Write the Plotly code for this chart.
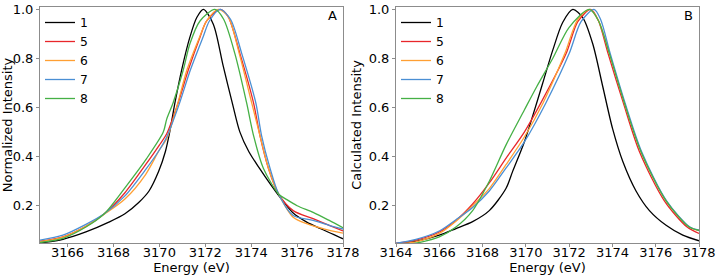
import plotly.graph_objects as go

# ---------------- Data ----------------
series_names = ["1", "5", "6", "7", "8"]
series_colors = ["#000000", "#e8262a", "#ff9f33", "#4a8fd4", "#45b045"]

# Panel A: Normalized (experimental) intensity
a1_e = [3164.8, 3165.8, 3166.8, 3167.8, 3168.5, 3169.1, 3169.55, 3169.97, 3170.26, 3170.45, 3170.68, 3170.97, 3171.33, 3171.63, 3171.92, 3172.35, 3172.78, 3173.2, 3173.51, 3173.9, 3174.38, 3174.82, 3175.25, 3175.83, 3176.42, 3177.0, 3177.58, 3178.0]
a1_v = [0.048, 0.063, 0.093, 0.133, 0.167, 0.213, 0.26, 0.34, 0.42, 0.50, 0.62, 0.753, 0.887, 0.967, 1.0, 0.94, 0.77, 0.61, 0.50, 0.42, 0.35, 0.29, 0.235, 0.17, 0.133, 0.107, 0.083, 0.065]

a5_e = [3164.8, 3165.8, 3166.8, 3167.6, 3168.5, 3169.4, 3170.0, 3170.32, 3170.82, 3171.26, 3171.77, 3172.06, 3172.65, 3173.0, 3173.51, 3174.1, 3174.38, 3174.75, 3175.2, 3175.83, 3176.7, 3177.4, 3178.0]
a5_v = [0.055, 0.073, 0.116, 0.167, 0.253, 0.367, 0.447, 0.493, 0.62, 0.753, 0.887, 0.953, 1.0, 0.97, 0.82, 0.62, 0.487, 0.353, 0.247, 0.18, 0.147, 0.12, 0.097]

a6_e = [3164.8, 3165.8, 3166.8, 3167.6, 3168.5, 3169.4, 3170.0, 3170.32, 3170.75, 3171.2, 3171.75, 3172.06, 3172.57, 3173.0, 3173.48, 3174.02, 3174.38, 3174.75, 3175.2, 3175.83, 3176.42, 3177.2, 3178.0]
a6_v = [0.053, 0.072, 0.116, 0.165, 0.227, 0.327, 0.427, 0.473, 0.60, 0.753, 0.887, 0.953, 1.0, 0.97, 0.82, 0.62, 0.487, 0.353, 0.247, 0.153, 0.127, 0.105, 0.088]

a7_e = [3164.8, 3165.8, 3166.8, 3167.6, 3168.5, 3169.4, 3170.0, 3170.32, 3170.85, 3171.35, 3171.9, 3172.18, 3172.65, 3173.1, 3173.59, 3174.2, 3174.45, 3174.82, 3175.2, 3175.83, 3176.7, 3177.4, 3178.0]
a7_v = [0.06, 0.08, 0.124, 0.167, 0.24, 0.347, 0.427, 0.48, 0.61, 0.753, 0.887, 0.953, 1.0, 0.96, 0.82, 0.62, 0.487, 0.353, 0.247, 0.16, 0.14, 0.12, 0.105]

a8_e = [3164.8, 3165.8, 3166.8, 3167.6, 3168.5, 3169.45, 3170.17, 3170.32, 3170.6, 3171.04, 3171.33, 3171.77, 3172.42, 3172.8, 3173.29, 3173.8, 3174.1, 3174.53, 3175.2, 3175.55, 3176.0, 3176.7, 3177.4, 3178.0]
a8_v = [0.05, 0.067, 0.113, 0.167, 0.273, 0.393, 0.50, 0.553, 0.62, 0.753, 0.86, 0.953, 1.0, 0.96, 0.82, 0.62, 0.487, 0.353, 0.247, 0.225, 0.20, 0.173, 0.14, 0.11]

# Panel B: Calculated intensity
b1_e = [3164.0, 3164.92, 3166.0, 3166.77, 3167.54, 3168.31, 3169.08, 3169.39, 3169.93, 3170.32, 3170.78, 3171.24, 3171.7, 3172.17, 3172.63, 3173.09, 3173.55, 3174.01, 3174.48, 3175.09, 3175.71, 3176.48, 3177.25, 3178.0]
b1_v = [0.045, 0.055, 0.08, 0.107, 0.135, 0.18, 0.27, 0.34, 0.46, 0.567, 0.70, 0.833, 0.947, 1.0, 0.967, 0.86, 0.687, 0.513, 0.38, 0.26, 0.18, 0.12, 0.08, 0.057]

b5_e = [3164.0, 3164.92, 3166.0, 3166.77, 3167.54, 3168.31, 3169.08, 3169.93, 3170.7, 3171.86, 3172.4, 3173.0, 3173.35, 3173.8, 3174.5, 3175.25, 3176.4, 3177.45, 3178.0]
b5_v = [0.047, 0.06, 0.093, 0.14, 0.207, 0.293, 0.393, 0.50, 0.62, 0.82, 0.95, 1.0, 0.955, 0.82, 0.62, 0.42, 0.22, 0.113, 0.087]

b6_e = [3164.0, 3164.92, 3166.0, 3166.77, 3167.54, 3168.31, 3169.08, 3169.93, 3170.8, 3171.8, 3172.4, 3172.95, 3173.35, 3173.86, 3174.55, 3175.32, 3176.48, 3177.55, 3178.0]
b6_v = [0.045, 0.053, 0.087, 0.137, 0.2, 0.27, 0.367, 0.48, 0.62, 0.82, 0.96, 1.0, 0.955, 0.82, 0.62, 0.42, 0.22, 0.113, 0.098]

b7_e = [3164.0, 3164.92, 3166.0, 3166.77, 3167.54, 3168.31, 3169.08, 3169.93, 3170.93, 3172.0, 3172.55, 3173.15, 3173.45, 3173.9, 3174.58, 3175.35, 3176.5, 3177.58, 3178.0]
b7_v = [0.047, 0.063, 0.097, 0.143, 0.193, 0.26, 0.353, 0.46, 0.62, 0.82, 0.95, 1.0, 0.96, 0.82, 0.62, 0.42, 0.22, 0.113, 0.1]

b8_e = [3164.0, 3164.92, 3166.0, 3166.77, 3167.54, 3168.31, 3169.08, 3169.93, 3170.5, 3171.24, 3172.0, 3172.93, 3173.35, 3173.86, 3174.55, 3175.32, 3176.48, 3177.55, 3178.0]
b8_v = [0.035, 0.047, 0.073, 0.113, 0.18, 0.30, 0.447, 0.59, 0.685, 0.80, 0.927, 1.0, 0.955, 0.82, 0.62, 0.42, 0.22, 0.113, 0.1]

panel_a = [(a1_e, a1_v), (a5_e, a5_v), (a6_e, a6_v), (a7_e, a7_v), (a8_e, a8_v)]
panel_b = [(b1_e, b1_v), (b5_e, b5_v), (b6_e, b6_v), (b7_e, b7_v), (b8_e, b8_v)]

xticks_a = [3166, 3168, 3170, 3172, 3174, 3176, 3178]
xticks_b = [3164, 3166, 3168, 3170, 3172, 3174, 3176, 3178]
yticks = [0.2, 0.4, 0.6, 0.8, 1.0]

# ---------------- Figure ----------------
W, H = 716, 275
FONT = "DejaVu Sans"
FS = 13
AXC = "#8c8c8c"
TOP, BOT = 7, 243  # plot area top / bottom pixel rows

fig = go.Figure()
for (e, v), name, col in zip(panel_a, series_names, series_colors):
    fig.add_trace(go.Scatter(x=e, y=v, mode="lines", name=name, legend="legend",
                             line=dict(color=col, width=1.3, shape="spline", smoothing=0.8),
                             xaxis="x", yaxis="y"))
for (e, v), name, col in zip(panel_b, series_names, series_colors):
    fig.add_trace(go.Scatter(x=e, y=v, mode="lines", name=name, legend="legend2",
                             line=dict(color=col, width=1.3, shape="spline", smoothing=0.8),
                             xaxis="x2", yaxis="y2"))

def px(x):
    return x / W

def py(y):
    return (BOT - y) / (BOT - TOP)

common_x = dict(showgrid=False, zeroline=False, showline=True, linecolor=AXC, linewidth=1,
                mirror=True, ticks="outside", ticklen=3, tickcolor=AXC, tickwidth=1,
                automargin=False, ticklabeloverflow="allow", ticklabelstandoff=-6,
                tickfont=dict(family=FONT, size=FS, color="#000"),
                title_font=dict(family=FONT, size=FS, color="#000"), title_standoff=1)
common_y = dict(showgrid=False, zeroline=False, showline=True, linecolor=AXC, linewidth=1,
                mirror=True, ticks="outside", ticklen=3, tickcolor=AXC, tickwidth=1,
                automargin=False, ticklabeloverflow="allow",
                tickfont=dict(family=FONT, size=FS, color="#000"),
                title_font=dict(family=FONT, size=FS, color="#000"), title_standoff=4,
                range=[0.048, 1.010], tickvals=yticks, tickformat=".1f")

legend_common = dict(font=dict(family=FONT, size=12.3, color="#000"), bgcolor="rgba(0,0,0,0)",
                     borderwidth=0, tracegroupgap=0, xanchor="left", yanchor="top",
                     itemwidth=30)

fig.update_layout(
    width=W, height=H,
    margin=dict(l=0, r=0, t=TOP, b=H - BOT),
    paper_bgcolor="white", plot_bgcolor="white",
    showlegend=True,
    xaxis=dict(domain=[px(40), px(343)], range=[3164.8, 3178], tickvals=xticks_a,
               title_text="Energy (eV)", anchor="y", **common_x),
    yaxis=dict(domain=[0, 1], anchor="x", title_text="Normalized Intensity", **common_y),
    xaxis2=dict(domain=[px(396), px(699)], range=[3164, 3178], tickvals=xticks_b,
                title_text="Energy (eV)", anchor="y2", **common_x),
    yaxis2=dict(domain=[0, 1], anchor="x2", title_text="Calculated Intensity", **common_y),
    legend=dict(x=px(40), y=py(8), **legend_common),
    legend2=dict(x=px(396), y=py(8), **legend_common),
    annotations=[
        dict(text="A", x=px(332), y=py(15), xref="paper", yref="paper", showarrow=False,
             font=dict(family=FONT, size=FS, color="#000"), xanchor="center", yanchor="middle"),
        dict(text="B", x=px(688), y=py(15), xref="paper", yref="paper", showarrow=False,
             font=dict(family=FONT, size=FS, color="#000"), xanchor="center", yanchor="middle"),
    ],
)

fig.write_html("out.html")
